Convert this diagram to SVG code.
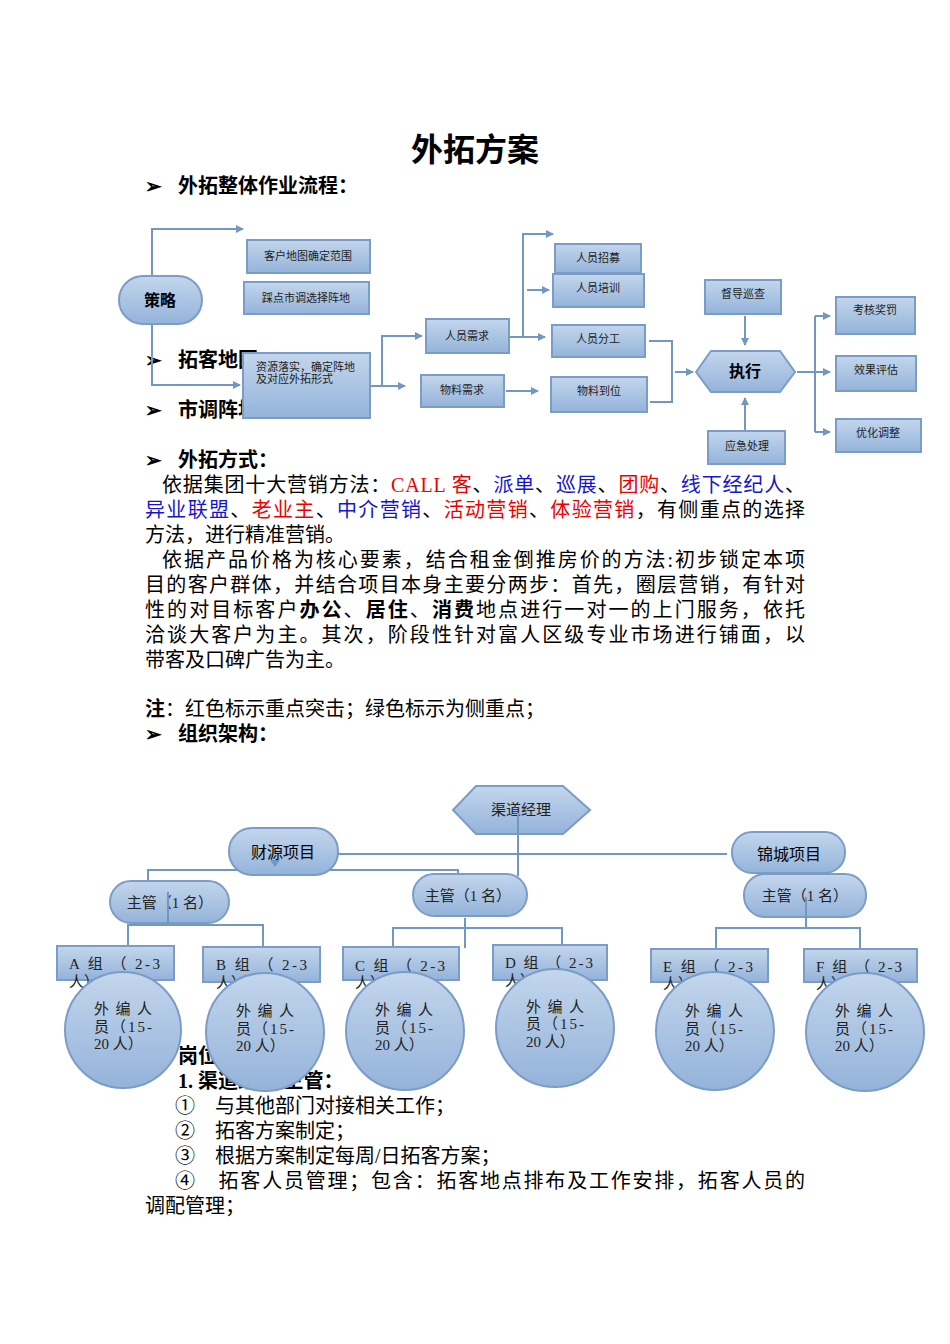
<svg xmlns="http://www.w3.org/2000/svg" width="950" height="1344" viewBox="0 0 950 1344">
<style>
text{font-family:"Liberation Serif","Noto Sans CJK SC",serif;fill:#000}
.h{font-weight:bold;font-size:20px}
.p{font-size:20px}
.n{fill:url(#g);stroke:#7b9cc7;stroke-width:2}
.s{font-size:11px;fill:#222}
.m{font-size:15px;fill:#222}
.c{fill:none;stroke:#7397c3;stroke-width:2}
.r{fill:#e00}.b{fill:#1515d0}
</style>
<defs>
<linearGradient id="g" x1="0" y1="0" x2="0" y2="1"><stop offset="0" stop-color="#c3d6ec"/><stop offset="1" stop-color="#94b3da"/></linearGradient>
<marker id="a" markerWidth="8" markerHeight="8" refX="7" refY="4" orient="auto" markerUnits="userSpaceOnUse"><path d="M0,0L8,4L0,8z" fill="#7397c3"/></marker>
</defs>
<rect width="950" height="1344" fill="#fff"/>
<text x="475" y="161" text-anchor="middle" style="font-size:32px;font-weight:bold">外拓方案</text>
<g class="h">
<text x="145" y="193">➢</text><text x="178" y="193">外拓整体作业流程：</text>
<text x="145" y="367">➢</text><text x="178" y="367">拓客地图</text>
<text x="145" y="417">➢</text><text x="178" y="417">市调阵地</text>
<text x="145" y="467">➢</text><text x="178" y="467">外拓方式：</text>
</g>
<g class="p">
<text x="162" y="492" textLength="643" lengthAdjust="spacing">依据集团十大营销方法：<tspan class="r">CALL 客</tspan>、<tspan class="b">派单</tspan>、<tspan class="b">巡展</tspan>、<tspan class="r">团购</tspan>、<tspan class="b">线下经纪人</tspan>、</text>
<text x="145" y="517" textLength="660" lengthAdjust="spacing"><tspan class="b">异业联盟</tspan>、<tspan class="r">老业主</tspan>、<tspan class="b">中介营销</tspan>、<tspan class="r">活动营销</tspan>、<tspan class="r">体验营销</tspan>，有侧重点的选择</text>
<text x="145" y="542">方法，进行精准营销。</text>
<text x="162" y="567" textLength="643" lengthAdjust="spacing">依据产品价格为核心要素，结合租金倒推房价的方法:初步锁定本项</text>
<text x="145" y="592" textLength="660" lengthAdjust="spacing">目的客户群体，并结合项目本身主要分两步：首先，圈层营销，有针对</text>
<text x="145" y="617" textLength="660" lengthAdjust="spacing">性的对目标客户<tspan font-weight="bold">办公</tspan>、<tspan font-weight="bold">居住</tspan>、<tspan font-weight="bold">消费</tspan>地点进行一对一的上门服务，依托</text>
<text x="145" y="642" textLength="660" lengthAdjust="spacing">洽谈大客户为主。其次，阶段性针对富人区级专业市场进行铺面，以</text>
<text x="145" y="667">带客及口碑广告为主。</text>
<text x="145" y="716"><tspan font-weight="bold">注</tspan>：红色标示重点突击；绿色标示为侧重点；</text>
</g>
<g class="h"><text x="145" y="741">➢</text><text x="178" y="741">组织架构：</text>
<text x="178" y="1063">岗位职责：</text>
<text x="178" y="1088">1.  渠道经理/主管：</text></g>
<g class="p">
<text x="175" y="1113">①　与其他部门对接相关工作；</text>
<text x="175" y="1138">②　拓客方案制定；</text>
<text x="175" y="1163">③　根据方案制定每周/日拓客方案；</text>
<text x="175" y="1188" textLength="630" lengthAdjust="spacing">④　拓客人员管理；包含：拓客地点排布及工作安排，拓客人员的</text>
<text x="145" y="1213">调配管理；</text>
</g>
<g id="connectors" class="c">
<path d="M152,276V229H243" marker-end="url(#a)"/>
<path d="M152,324V385H240" marker-end="url(#a)"/>
<path d="M370,386H382V336H422" marker-end="url(#a)"/>
<path d="M382,386H405" marker-end="url(#a)"/>
<path d="M509,337H523V234H553" marker-end="url(#a)"/>
<path d="M527,290H549" marker-end="url(#a)"/>
<path d="M523,337H545" marker-end="url(#a)"/>
<path d="M506,391H538" marker-end="url(#a)"/>
<path d="M649,341H672V402H650"/>
<path d="M675,372H693" marker-end="url(#a)"/>
<path d="M745,316V345" marker-end="url(#a)"/>
<path d="M745,430V398" marker-end="url(#a)"/>
<path d="M797,372H815"/>
<path d="M815,316V432"/>
<path d="M815,316H830" marker-end="url(#a)"/>
<path d="M815,372H830" marker-end="url(#a)"/>
<path d="M815,432H830" marker-end="url(#a)"/>
</g>
<g id="n-celue"><rect class="n" x="119" y="276" width="83" height="48" rx="24"/><text x="160" y="306" text-anchor="middle" style="font-size:16px;font-weight:bold">策略</text></g>
<g id="n1"><rect class="n" x="247" y="240" width="123" height="33"/><text class="s" x="308" y="260" text-anchor="middle">客户地图确定范围</text></g>
<g id="n2"><rect class="n" x="244" y="282" width="125" height="32"/><text class="s" x="306" y="302" text-anchor="middle">踩点市调选择阵地</text></g>
<g id="n3"><rect class="n" x="243" y="353" width="127" height="65"/><text class="s" x="256" y="371">资源落实，确定阵地</text><text class="s" x="256" y="383">及对应外拓形式</text></g>
<g id="n4"><rect class="n" x="426" y="319" width="83" height="34"/><text class="s" x="467" y="340" text-anchor="middle">人员需求</text></g>
<g id="n5"><rect class="n" x="421" y="375" width="83" height="32"/><text class="s" x="462" y="394" text-anchor="middle">物料需求</text></g>
<g id="n6"><rect class="n" x="555" y="244" width="86" height="29"/><text class="s" x="598" y="262" text-anchor="middle">人员招募</text></g>
<g id="n7"><rect class="n" x="553" y="274" width="91" height="33"/><text class="s" x="598" y="292" text-anchor="middle">人员培训</text></g>
<g id="n8"><rect class="n" x="552" y="325" width="93" height="32"/><text class="s" x="598" y="343" text-anchor="middle">人员分工</text></g>
<g id="n9"><rect class="n" x="551" y="377" width="96" height="35"/><text class="s" x="599" y="395" text-anchor="middle">物料到位</text></g>
<g id="n10"><polygon class="n" points="696,372 711,351 780,351 795,372 780,392 711,392"/><text x="745" y="377" text-anchor="middle" style="font-size:16px;font-weight:bold">执行</text></g>
<g id="n11"><rect class="n" x="705" y="280" width="76" height="34"/><text class="s" x="743" y="298" text-anchor="middle">督导巡查</text></g>
<g id="n12"><rect class="n" x="708" y="431" width="77" height="33"/><text class="s" x="747" y="450" text-anchor="middle">应急处理</text></g>
<g id="n13"><rect class="n" x="836" y="297" width="79" height="37"/><text class="s" x="875" y="314" text-anchor="middle">考核奖罚</text></g>
<g id="n14"><rect class="n" x="836" y="356" width="80" height="35"/><text class="s" x="876" y="374" text-anchor="middle">效果评估</text></g>
<g id="n15"><rect class="n" x="836" y="419" width="85" height="33"/><text class="s" x="878" y="437" text-anchor="middle">优化调整</text></g>
<g id="org-connectors" class="c">
<path d="M338,854H727"/>
<path d="M148,880V870H458V877"/>
<path d="M128,946V925H263V946"/>
<path d="M465,918V948"/>
<path d="M393,946V928H562V945"/>
<path d="M716,949V928H860V949"/>
</g>
<g id="o-mgr"><polygon class="n" points="453,810 476,786 563,786 590,810 563,834 476,834"/><text class="m" x="521" y="815" text-anchor="middle" font-size="14">渠道经理</text></g>
<path class="c" d="M518,813V876"/>
<g id="o-cy"><rect class="n" x="229" y="828" width="109" height="47" rx="23"/><text x="283" y="858" text-anchor="middle" style="font-size:16px">财源项目</text><path d="M270,860h10l-5,7z" fill="#7397c3"/></g>
<g id="o-jc"><rect class="n" x="732" y="832" width="113" height="41" rx="20"/><text x="789" y="860" text-anchor="middle" style="font-size:16px">锦城项目</text></g>
<g id="o-z1"><rect class="n" x="110" y="881" width="119" height="42" rx="21"/><text class="m" x="170" y="908" text-anchor="middle" font-size="14">主管（1 名）</text></g>
<g id="o-z2"><rect class="n" x="413" y="874" width="114" height="42" rx="21"/><text class="m" x="468" y="901" text-anchor="middle" font-size="14">主管（1 名）</text></g>
<g id="o-z3"><rect class="n" x="744" y="874" width="122" height="43" rx="21"/><text class="m" x="805" y="901" text-anchor="middle" font-size="14">主管（1 名）</text></g>
<path class="c" d="M168,892V925M806,897V928"/>
<g id="o-a"><rect class="n" x="57" y="946" width="117" height="34"/><text class="m" x="69" y="969" textLength="91" lengthAdjust="spacing">A 组 （ 2-3</text><text class="m" x="69" y="987">人）</text><circle class="n" cx="123" cy="1030" r="58"/><text class="m" x="94" y="1014" textLength="58" lengthAdjust="spacing">外编人</text><text class="m" x="94" y="1032" textLength="58" lengthAdjust="spacing">员（15-</text><text class="m" x="94" y="1049">20 人）</text></g>
<g id="o-b"><rect class="n" x="203" y="947" width="117" height="35"/><text class="m" x="216" y="970" textLength="91" lengthAdjust="spacing">B 组 （ 2-3</text><text class="m" x="216" y="988">人）</text><circle class="n" cx="265" cy="1032" r="59"/><text class="m" x="236" y="1016" textLength="58" lengthAdjust="spacing">外编人</text><text class="m" x="236" y="1034" textLength="58" lengthAdjust="spacing">员（15-</text><text class="m" x="236" y="1051">20 人）</text></g>
<g id="o-c"><rect class="n" x="343" y="947" width="116" height="33"/><text class="m" x="355" y="971" textLength="90" lengthAdjust="spacing">C 组 （ 2-3</text><text class="m" x="355" y="988">人）</text><circle class="n" cx="405" cy="1031" r="59"/><text class="m" x="375" y="1015" textLength="58" lengthAdjust="spacing">外编人</text><text class="m" x="375" y="1033" textLength="58" lengthAdjust="spacing">员（15-</text><text class="m" x="375" y="1050">20 人）</text></g>
<g id="o-d"><rect class="n" x="493" y="945" width="114" height="35"/><text class="m" x="505" y="968" textLength="88" lengthAdjust="spacing">D 组 （ 2-3</text><text class="m" x="505" y="986">人）</text><circle class="n" cx="555" cy="1028" r="59"/><text class="m" x="526" y="1012" textLength="58" lengthAdjust="spacing">外编人</text><text class="m" x="526" y="1029" textLength="58" lengthAdjust="spacing">员（15-</text><text class="m" x="526" y="1047">20 人）</text></g>
<g id="o-e"><rect class="n" x="651" y="949" width="117" height="33"/><text class="m" x="663" y="972" textLength="90" lengthAdjust="spacing">E 组 （ 2-3</text><text class="m" x="663" y="989">人）</text><circle class="n" cx="715" cy="1031" r="59"/><text class="m" x="685" y="1016" textLength="58" lengthAdjust="spacing">外编人</text><text class="m" x="685" y="1034" textLength="58" lengthAdjust="spacing">员（15-</text><text class="m" x="685" y="1051">20 人）</text></g>
<g id="o-f"><rect class="n" x="804" y="949" width="113" height="33"/><text class="m" x="816" y="972" textLength="86" lengthAdjust="spacing">F 组 （ 2-3</text><text class="m" x="816" y="989">人）</text><circle class="n" cx="865" cy="1032" r="59"/><text class="m" x="835" y="1016" textLength="58" lengthAdjust="spacing">外编人</text><text class="m" x="835" y="1034" textLength="58" lengthAdjust="spacing">员（15-</text><text class="m" x="835" y="1051">20 人）</text></g>
</svg>
